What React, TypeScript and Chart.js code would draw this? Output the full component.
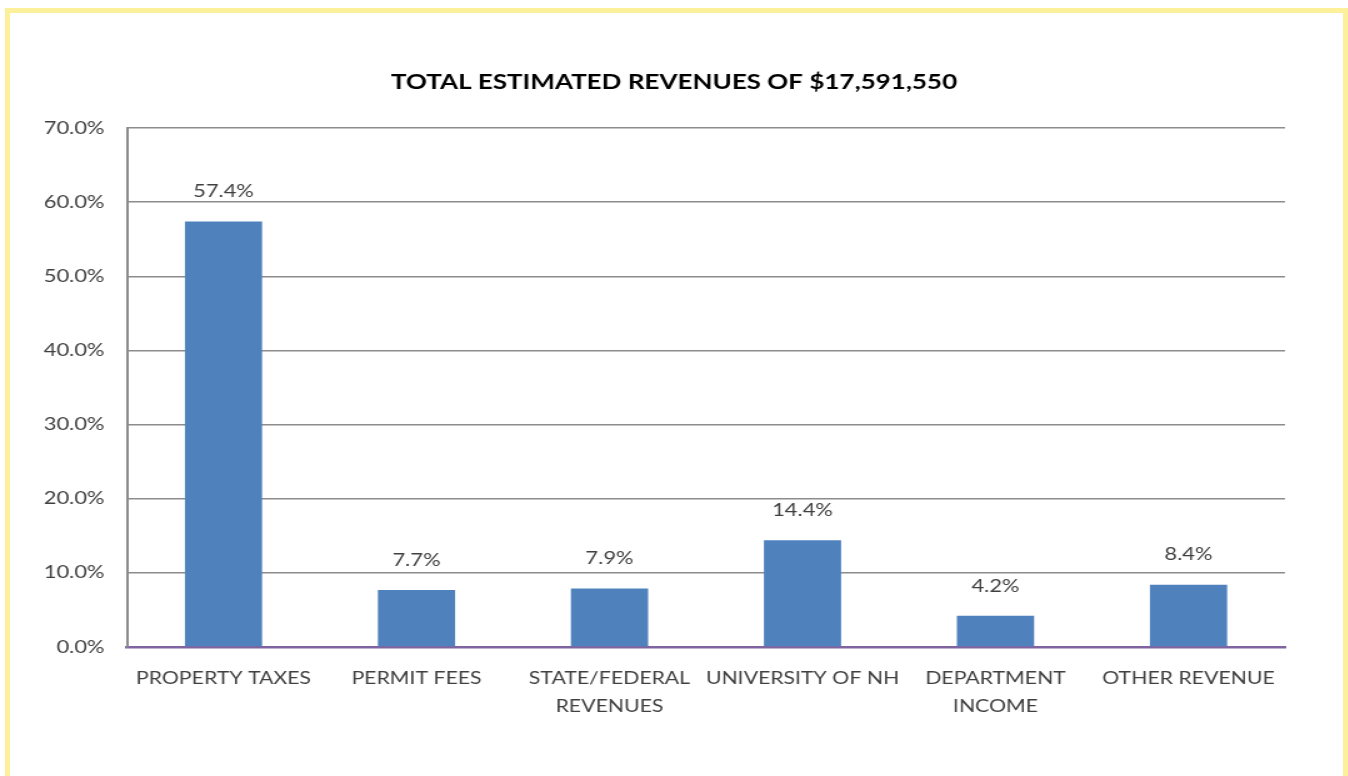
import React, { useEffect, useRef } from "react";
import { Chart, registerables } from "chart.js";

Chart.register(...registerables);

const TITLE = "TOTAL ESTIMATED REVENUES OF $17,591,550";
const categories: (string | string[])[] = [
  "PROPERTY TAXES",
  "PERMIT FEES",
  ["STATE/FEDERAL", "REVENUES"],
  "UNIVERSITY OF NH",
  ["DEPARTMENT", "INCOME"],
  "OTHER REVENUE",
];
const shares = [57.4, 7.7, 7.9, 14.4, 4.2, 8.4];
const yMin = 0;
const yMax = 70;
const yStep = 10;

// the original picture is stretched horizontally; reproduce that with a CSS scaleX
const STRETCH = 1.25;
const PAGE_W = 1348;
const PAGE_H = 776;

const FONT = "Lato, 'Open Sans', sans-serif";
const TEXT = "#404040";

const valueLabels = {
  id: "valueLabels",
  afterDatasetsDraw(chart: any) {
    const ctx = chart.ctx;
    const meta = chart.getDatasetMeta(0);
    ctx.save();
    ctx.font = `17.5px ${FONT}`;
    ctx.fillStyle = TEXT;
    ctx.textAlign = "center";
    ctx.textBaseline = "middle";
    meta.data.forEach((bar: any, i: number) => {
      ctx.fillText(shares[i].toFixed(1) + "%", bar.x, bar.y - 30);
    });
    ctx.restore();
  },
};

const pageTitle = {
  id: "pageTitle",
  afterDraw(chart: any) {
    const ctx = chart.ctx;
    ctx.save();
    ctx.font = `bold 20.8px ${FONT}`;
    ctx.fillStyle = "#000000";
    ctx.textAlign = "center";
    ctx.textBaseline = "middle";
    ctx.fillText(TITLE, chart.width / 2, 82);
    ctx.restore();
  },
};

export default function App() {
  const ref = useRef<HTMLCanvasElement | null>(null);
  useEffect(() => {
    if (!ref.current) return;
    const chart = new Chart(ref.current, {
      type: "bar",
      data: {
        labels: categories,
        datasets: [
          {
            data: shares,
            backgroundColor: "#4F81BD",
            borderWidth: 0,
            barPercentage: 0.4,
            categoryPercentage: 1.0,
          },
        ],
      },
      options: {
        animation: false,
        responsive: true,
        maintainAspectRatio: false,
        layout: { padding: { left: 0, right: 63 / STRETCH, top: 128, bottom: 0 } },
        plugins: {
          legend: { display: false },
          tooltip: { enabled: false },
          title: { display: false },
        },
        scales: {
          x: {
            grid: { display: false, drawTicks: false },
            border: { display: true, color: "#8064A2", width: 2.5 },
            ticks: {
              color: TEXT,
              font: { family: FONT, size: 17, lineHeight: 1.65 },
              padding: 17,
              maxRotation: 0,
              autoSkip: false,
            },
            afterFit: (s: any) => {
              s.height = 129;
            },
          },
          y: {
            min: yMin,
            max: yMax,
            grid: {
              drawTicks: false,
              color: (c: any) => (c.tick && c.tick.value === 0 ? "rgba(0,0,0,0)" : "#8c8c8c"),
              lineWidth: 1.5,
            },
            border: { display: true, color: "#8c8c8c", width: 2 },
            ticks: {
              stepSize: yStep,
              color: TEXT,
              font: { family: FONT, size: 17.5 },
              padding: 18,
              callback: (v: any) => Number(v).toFixed(1) + "%",
            },
            afterFit: (s: any) => {
              s.width = 127 / STRETCH;
            },
          },
        },
      },
      plugins: [valueLabels, pageTitle],
    });
    return () => chart.destroy();
  }, []);

  return (
    <div style={{ position: "fixed", left: 0, top: 0, width: PAGE_W, height: PAGE_H, background: "#ffffff", overflow: "hidden" }}>
      <div
        style={{
          position: "absolute",
          left: 5,
          top: 8,
          width: 1343,
          height: 800,
          boxSizing: "border-box",
          borderTop: "5px solid #FDF09B",
          borderLeft: "5px solid #FDF09B",
          borderRight: "5px solid #FDF09B",
        }}
      />
      <div
        style={{
          position: "absolute",
          left: 0,
          top: 0,
          width: PAGE_W / STRETCH,
          height: PAGE_H,
          transform: `scaleX(${STRETCH})`,
          transformOrigin: "0 0",
        }}
      >
        <canvas ref={ref} />
      </div>
    </div>
  );
}
